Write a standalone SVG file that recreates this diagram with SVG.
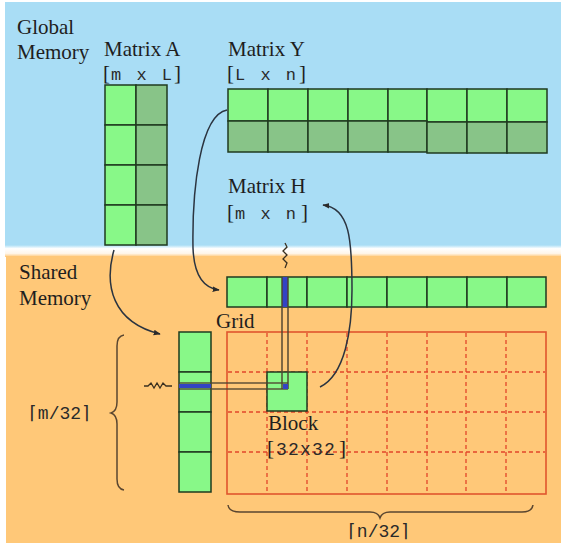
<svg xmlns="http://www.w3.org/2000/svg" width="561" height="543" viewBox="0 0 561 543">
  <style>
    .serif { font-family: "Liberation Serif", "Times New Roman", serif; font-size: 21px; fill: #1e1e1e; }
    .mono { font-family: "Liberation Mono", "DejaVu Sans Mono", monospace; font-size: 17px; fill: #2a2a2a; letter-spacing: 2.5px; }
    .lt { fill: #88f888; stroke: #1f3a1f; stroke-width: 1.5; }
    .dk { fill: #88c488; stroke: #1f3a1f; stroke-width: 1.5; }
    .dash { stroke: #e2452a; stroke-width: 1.3; stroke-dasharray: 4 3; fill: none; }
    .curve { fill: none; stroke: #2b3440; stroke-width: 1.5; }
    .brace { fill: none; stroke: #5a4630; stroke-width: 1.5; }
    .thread { stroke: #4f4330; stroke-width: 1.6; stroke-opacity: 0.9; fill: none; }
    .squig { fill: none; stroke: #3a3020; stroke-width: 1.3; }
  </style>
  <defs>
    <marker id="arrow" viewBox="0 0 10 10" refX="9" refY="5" markerWidth="7" markerHeight="7" orient="auto-start-reverse" markerUnits="userSpaceOnUse">
      <path d="M0,1 L10,5 L0,9 Z" fill="#2b2b2b"/>
    </marker>
    <linearGradient id="gap" x1="0" y1="0" x2="0" y2="1">
      <stop offset="0" stop-color="#a9ddf5"/>
      <stop offset="0.3" stop-color="#ffffff"/>
      <stop offset="0.7" stop-color="#fff6ea"/>
      <stop offset="1" stop-color="#ffc878"/>
    </linearGradient>
  </defs>

  <rect x="0" y="0" width="561" height="543" fill="#ffffff"/>

  <!-- memory regions -->
  <g id="global-memory">
    <rect x="5" y="2" width="556" height="245" fill="#a9ddf5"/>
    <text class="serif" x="17" y="34">Global</text>
    <text class="serif" x="17" y="59">Memory</text>
  </g>
  <rect x="5" y="245" width="556" height="12" fill="url(#gap)"/>
  <g id="shared-memory">
    <rect x="6" y="256" width="555" height="287" fill="#ffc878"/>
    <text class="serif" x="19" y="279">Shared</text>
    <text class="serif" x="19" y="305">Memory</text>
  </g>

  <!-- Matrix A in global memory -->
  <g id="matrix-a">
    <text class="serif" x="104" y="56">Matrix A</text>
    <text class="serif" x="103" y="80">[</text>
    <text class="mono" x="111" y="80">m x L</text>
    <text class="serif" x="174" y="80">]</text>
    <rect class="lt" x="105" y="85" width="31" height="40"/>
    <rect class="dk" x="136" y="85" width="31" height="40"/>
    <rect class="lt" x="105" y="125" width="31" height="40"/>
    <rect class="dk" x="136" y="125" width="31" height="40"/>
    <rect class="lt" x="105" y="165" width="31" height="40"/>
    <rect class="dk" x="136" y="165" width="31" height="40"/>
    <rect class="lt" x="105" y="205" width="31" height="40"/>
    <rect class="dk" x="136" y="205" width="31" height="40"/>
  </g>

  <!-- Matrix Y in global memory -->
  <g id="matrix-y">
    <text class="serif" x="228" y="56">Matrix Y</text>
    <text class="serif" x="227" y="80">[</text>
    <text class="mono" x="235" y="80">L x n</text>
    <text class="serif" x="299" y="80">]</text>
    <rect class="lt" x="228" y="89" width="40" height="32"/>
    <rect class="lt" x="268" y="89" width="40" height="32"/>
    <rect class="lt" x="308" y="89" width="40" height="32"/>
    <rect class="lt" x="348" y="89" width="40" height="32"/>
    <rect class="lt" x="388" y="89" width="39" height="32"/>
    <rect class="lt" x="427" y="89" width="40" height="33"/>
    <rect class="lt" x="467" y="89" width="40" height="33"/>
    <rect class="lt" x="507" y="89" width="40" height="33"/>
    <rect class="dk" x="228" y="121" width="40" height="31"/>
    <rect class="dk" x="268" y="121" width="40" height="31"/>
    <rect class="dk" x="308" y="121" width="40" height="31"/>
    <rect class="dk" x="348" y="121" width="40" height="31"/>
    <rect class="dk" x="388" y="121" width="39" height="31"/>
    <rect class="dk" x="427" y="122" width="40" height="31"/>
    <rect class="dk" x="467" y="122" width="40" height="31"/>
    <rect class="dk" x="507" y="122" width="40" height="31"/>
  </g>

  <!-- Matrix H label -->
  <g id="matrix-h">
    <text class="serif" x="228" y="193">Matrix H</text>
    <text class="serif" x="227" y="219">[</text>
    <text class="mono" x="235" y="219">m x n</text>
    <text class="serif" x="301" y="219">]</text>
  </g>

  <!-- row of Y tiles in shared memory -->
  <g id="shared-y-row">
    <rect class="lt" x="227" y="277" width="40" height="30"/>
    <rect class="lt" x="267" y="277" width="40" height="30"/>
    <rect class="lt" x="307" y="277" width="40" height="30"/>
    <rect class="lt" x="347" y="277" width="40" height="30"/>
    <rect class="lt" x="387" y="277" width="40" height="30"/>
    <rect class="lt" x="427" y="277" width="40" height="30"/>
    <rect class="lt" x="467" y="277" width="40" height="30"/>
    <rect class="lt" x="507" y="277" width="39" height="30"/>
  </g>

  <!-- column of A tiles in shared memory -->
  <g id="shared-a-col">
    <rect class="lt" x="179" y="332" width="32" height="40"/>
    <rect class="lt" x="179" y="372" width="32" height="40"/>
    <rect class="lt" x="179" y="412" width="32" height="40"/>
    <rect class="lt" x="179" y="452" width="32" height="40"/>
  </g>

  <!-- thread grid -->
  <g id="grid">
    <text class="serif" x="216" y="328">Grid</text>
    <rect x="227" y="332" width="319" height="162" fill="none" stroke="#e0552e" stroke-width="1.6"/>
    <line class="dash" x1="267" y1="333" x2="267" y2="493"/>
    <line class="dash" x1="307" y1="333" x2="307" y2="493"/>
    <line class="dash" x1="347" y1="333" x2="347" y2="493"/>
    <line class="dash" x1="387" y1="333" x2="387" y2="493"/>
    <line class="dash" x1="427" y1="333" x2="427" y2="493"/>
    <line class="dash" x1="466" y1="333" x2="466" y2="493"/>
    <line class="dash" x1="506" y1="333" x2="506" y2="493"/>
    <line class="dash" x1="228" y1="372" x2="545" y2="372"/>
    <line class="dash" x1="228" y1="412" x2="545" y2="412"/>
    <line class="dash" x1="228" y1="452" x2="545" y2="452"/>
  </g>

  <!-- one block of the grid -->
  <g id="block">
    <rect class="lt" x="267" y="372" width="40" height="39"/>
    <text class="serif" x="268" y="430">Block</text>
    <text class="serif" x="267" y="455">[</text>
    <text class="mono" x="276" y="455" fill="#4a4536" style="font-size:18px;letter-spacing:1.2px">32x32</text>
    <text class="serif" x="339" y="455">]</text>
  </g>

  <!-- size braces -->
  <g id="braces">
    <path class="brace" d="M124,335 Q117,336 117,346 L117,402 Q117,411 111,413 Q117,415 117,424 L117,479 Q117,489 124,490"/>
    <text class="mono" x="27" y="419" style="font-size:18px;letter-spacing:0">⌈m/32⌉</text>
    <path class="brace" d="M228,505 Q229,512 240,512 L370,512 Q378,512 380,518 Q382,512 390,512 L522,512 Q532,512 533,505"/>
    <text class="mono" x="346" y="537" style="font-size:18px;letter-spacing:0">⌈n/32⌉</text>
  </g>

  <!-- connectors: copies into shared memory, thread row/column, write-back -->
  <g id="connectors">
    <path class="curve" d="M114,250 C104,285 112,322 160,334" marker-end="url(#arrow)"/>
    <path class="curve" d="M227,110 C200,115 192,190 193,248 C194,275 203,288 219,290" marker-end="url(#arrow)"/>
    <path class="curve" d="M320,387 C345,375 352,330 352,290 C352,240 350,208 323,205" marker-end="url(#arrow)"/>

    <rect x="179" y="384" width="32" height="4" fill="#3344c4"/>
    <rect x="282" y="277" width="6" height="30" fill="#3344c4"/>
    <line class="thread" x1="179" y1="383" x2="288" y2="383"/>
    <line class="thread" x1="179" y1="389" x2="288" y2="389"/>
    <line class="thread" x1="282" y1="277" x2="282" y2="389"/>
    <line class="thread" x1="288" y1="277" x2="288" y2="389"/>
    <rect x="283" y="384" width="5" height="5" fill="#3344c4"/>

    <path class="squig" d="M285,243 L287,247 L283,251 L287,255 L283,259 L287,263 L285,268"/>
    <path class="squig" d="M144,386 L148,386 L151,383 L154,388 L157,383 L160,388 L163,383 L166,386 L172,386"/>
  </g>
</svg>
